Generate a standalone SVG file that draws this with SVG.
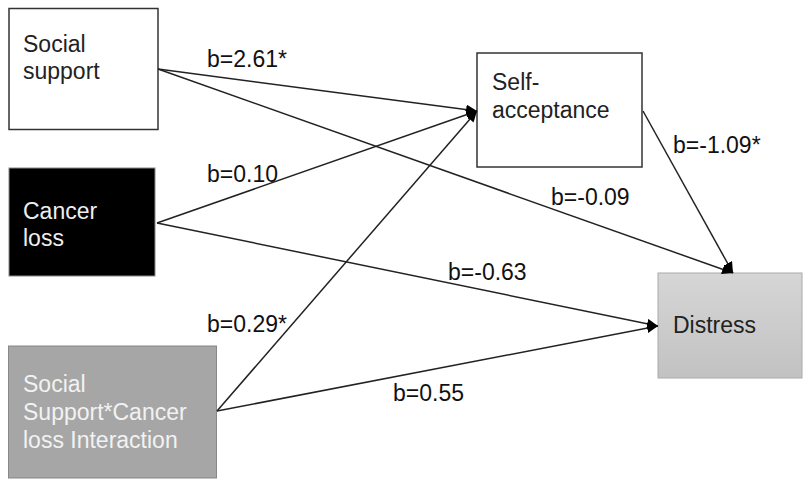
<svg xmlns="http://www.w3.org/2000/svg" width="803" height="479" viewBox="0 0 803 479">
<defs>
<marker id="arr" markerUnits="userSpaceOnUse" markerWidth="12" markerHeight="10" refX="11" refY="5" orient="auto">
<path d="M0,0 L11,5 L0,10 Z" fill="#000"/>
</marker>
<linearGradient id="dg" x1="0" y1="0" x2="0" y2="1">
<stop offset="0" stop-color="#d6d6d6"/>
<stop offset="1" stop-color="#c2c2c2"/>
</linearGradient>
</defs>
<style>
text{font-family:"Liberation Sans",Arial,sans-serif;font-size:23px;fill:#222}
.lbl{fill:#111}
.conn line{stroke:#222;stroke-width:1.5;marker-end:url(#arr)}
</style>
<rect width="803" height="479" fill="#fff"/>
<g id="social-support">
<rect x="9" y="8.5" width="149" height="121" fill="#fff" stroke="#333" stroke-width="1.5"/>
<text x="23" y="52">Social</text>
<text x="23" y="79">support</text>
</g>
<g id="cancer-loss">
<rect x="9" y="168" width="146" height="108" fill="#000" stroke="#888" stroke-width="1"/>
<text x="23" y="219" style="fill:#eee">Cancer</text>
<text x="23" y="246" style="fill:#eee">loss</text>
</g>
<g id="interaction">
<rect x="8.5" y="346" width="208" height="132" fill="#a6a6a6" stroke="#888" stroke-width="1"/>
<text x="23" y="392" style="fill:#f2f2f2">Social</text>
<text x="23" y="420" style="fill:#f2f2f2">Support*Cancer</text>
<text x="23" y="448" style="fill:#f2f2f2">loss Interaction</text>
</g>
<g id="self-acceptance">
<rect x="477" y="53" width="165" height="114" fill="#fff" stroke="#333" stroke-width="1.5"/>
<text x="492" y="90">Self-</text>
<text x="492" y="118">acceptance</text>
</g>
<g id="distress">
<rect x="658" y="273" width="144" height="105" fill="url(#dg)" stroke="#aaa" stroke-width="1"/>
<text x="673" y="333">Distress</text>
</g>
<g class="conn" id="connectors">
<line x1="158" y1="69" x2="477" y2="111"/>
<line x1="158" y1="69" x2="733" y2="273"/>
<line x1="157" y1="223" x2="477" y2="111"/>
<line x1="157" y1="223" x2="658" y2="326"/>
<line x1="217" y1="411" x2="477" y2="111"/>
<line x1="217" y1="411" x2="658" y2="326"/>
<line x1="643" y1="111" x2="733" y2="273"/>
</g>
<g id="labels">
<text class="lbl" x="207" y="67">b=2.61*</text>
<text class="lbl" x="207" y="182">b=0.10</text>
<text class="lbl" x="207" y="332">b=0.29*</text>
<text class="lbl" x="551" y="205">b=-0.09</text>
<text class="lbl" x="448" y="280">b=-0.63</text>
<text class="lbl" x="393" y="401">b=0.55</text>
<text class="lbl" x="673" y="153">b=-1.09*</text>
</g>
</svg>
